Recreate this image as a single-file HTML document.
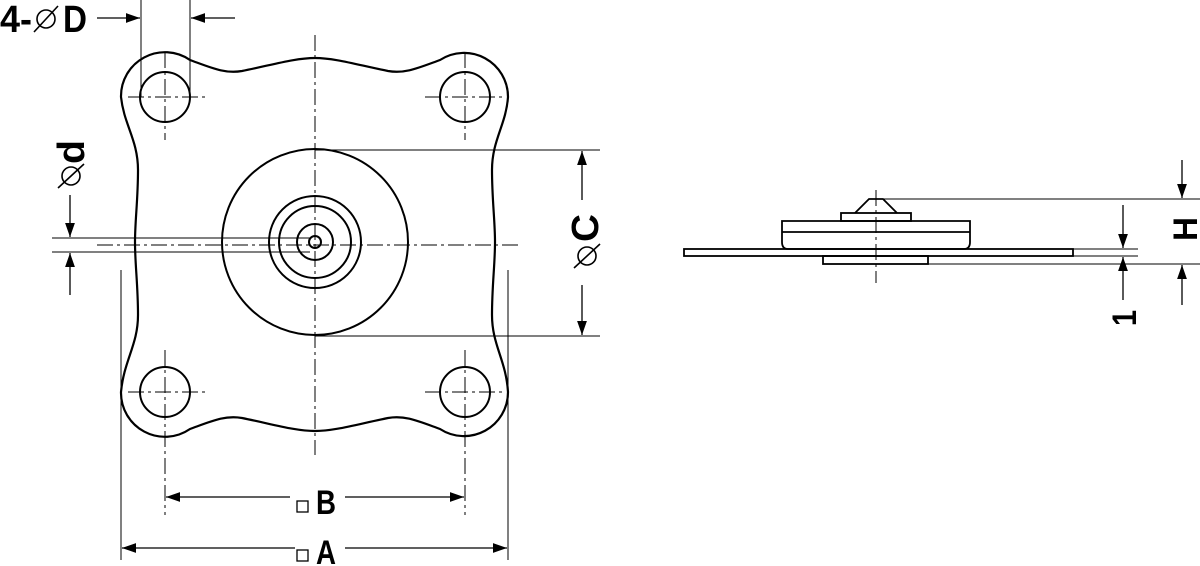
<!DOCTYPE html>
<html><head><meta charset="utf-8"><style>body{margin:0;background:#fff}svg{display:block}</style></head><body>
<svg width="1200" height="566" viewBox="0 0 1200 566" xmlns="http://www.w3.org/2000/svg" font-family="Liberation Sans, sans-serif">
<defs><marker id="ar" viewBox="0 0 10 10" refX="10" refY="5" markerWidth="14" markerHeight="14" markerUnits="userSpaceOnUse" orient="auto"><path d="M0,1.5 L10,5 L0,8.5z" fill="#000"/></marker></defs>
<g fill="none" stroke="#000">
<path stroke-width="2.2" d="M121,97 A44 44 0 0 1 190,60 C212,68 225,74 242,71 C272,65 295,58 315,58 C335,58 358,65 388,71 C405,74 418,68 440,60 A44 44 0 0 1 508,97 C506,125 492,140 492,170 C492,200 495,220 495,242 C495,265 492,285 492,315 C492,345 506,360 508,392 A44 44 0 0 1 440,429 C418,421 405,415 388,418 C358,424 335,431 315,431 C295,431 272,424 242,418 C225,415 212,421 190,429 A44 44 0 0 1 121,392 C124,360 138,345 138,315 C138,285 135,265 135,242 C135,220 138,200 138,170 C138,140 124,125 121,97Z"/>
<g stroke-width="2"><circle cx="165" cy="97" r="25"/><circle cx="465" cy="97" r="25"/><circle cx="165" cy="392" r="25"/><circle cx="465" cy="392" r="25"/>
<circle cx="315" cy="242" r="93"/><circle cx="315" cy="242" r="46"/><circle cx="315" cy="242" r="36"/><circle cx="315" cy="242" r="18"/><circle cx="315" cy="242" r="6"/></g>
<g stroke-width="1" stroke-dasharray="16,4,3,4">
<line x1="315" y1="35" x2="315" y2="455"/><line x1="97" y1="245" x2="520" y2="245"/>
<line x1="165" y1="52" x2="165" y2="140"/><line x1="128" y1="97" x2="205" y2="97"/>
<line x1="465" y1="52" x2="465" y2="140"/><line x1="425" y1="97" x2="502" y2="97"/>
<line x1="165" y1="350" x2="165" y2="515"/><line x1="128" y1="392" x2="205" y2="392"/>
<line x1="465" y1="350" x2="465" y2="515"/><line x1="425" y1="392" x2="502" y2="392"/>
<line x1="876" y1="190" x2="876" y2="283"/>
</g>
<g stroke-width="1">
<line x1="121" y1="270" x2="121" y2="560"/><line x1="508" y1="270" x2="508" y2="560"/>
<line x1="141" y1="0" x2="141" y2="97"/><line x1="190" y1="0" x2="190" y2="97"/>
<line x1="315" y1="150" x2="600" y2="150"/><line x1="315" y1="336" x2="600" y2="336"/>
<line x1="52" y1="238" x2="310" y2="238"/><line x1="52" y1="252" x2="310" y2="252"/>
<line x1="880" y1="199" x2="1200" y2="199"/><line x1="928" y1="264" x2="1200" y2="264"/>
<line x1="1073" y1="249" x2="1138" y2="249"/><line x1="1073" y1="256" x2="1138" y2="256"/>
</g>
<g stroke-width="1.3">
<line x1="295" y1="548" x2="122" y2="548" marker-end="url(#ar)"/><line x1="345" y1="548" x2="507" y2="548" marker-end="url(#ar)"/>
<line x1="290" y1="497" x2="166" y2="497" marker-end="url(#ar)"/><line x1="345" y1="497" x2="464" y2="497" marker-end="url(#ar)"/>
<line x1="97" y1="18" x2="140" y2="18" marker-end="url(#ar)"/><line x1="235" y1="18" x2="191" y2="18" marker-end="url(#ar)"/>
<line x1="582" y1="200" x2="582" y2="151" marker-end="url(#ar)"/><line x1="582" y1="285" x2="582" y2="335" marker-end="url(#ar)"/>
<line x1="70" y1="195" x2="70" y2="237" marker-end="url(#ar)"/><line x1="70" y1="295" x2="70" y2="253" marker-end="url(#ar)"/>
<line x1="1182" y1="160" x2="1182" y2="198" marker-end="url(#ar)"/><line x1="1182" y1="305" x2="1182" y2="265" marker-end="url(#ar)"/>
<line x1="1123" y1="205" x2="1123" y2="248" marker-end="url(#ar)"/><line x1="1123" y1="300" x2="1123" y2="257" marker-end="url(#ar)"/>
</g>
<g stroke-width="1.8">
<rect x="684" y="249" width="389" height="7"/>
<rect x="823" y="256" width="105" height="8"/>
<path d="M782,221 L970,221 L970,242 Q970,249 964,249 L788,249 Q782,249 782,242Z"/>
<line x1="782" y1="232" x2="970" y2="232"/>
<rect x="841" y="213" width="70" height="8"/>
<path d="M855,213 L869,199 L883,199 L897,213"/>
</g>
<g stroke-width="1.6">
<circle cx="46" cy="19" r="9"/><line x1="34" y1="32" x2="58" y2="6"/>
<circle cx="587" cy="256" r="9"/><line x1="574" y1="268" x2="600" y2="244"/>
<circle cx="71" cy="176" r="9"/><line x1="58" y1="188" x2="84" y2="164"/>
</g>
</g>
<g font-weight="bold" font-size="38" fill="#000">
<text x="0" y="32" textLength="32" lengthAdjust="spacingAndGlyphs">4-</text><text x="63" y="32" textLength="24" lengthAdjust="spacingAndGlyphs">D</text>
<text x="316" y="514" font-size="34" textLength="20" lengthAdjust="spacingAndGlyphs">B</text><rect x="297" y="501" width="11" height="11" fill="none" stroke="#000" stroke-width="1.3"/>
<text x="316" y="564" font-size="34" textLength="20" lengthAdjust="spacingAndGlyphs">A</text><rect x="297" y="550" width="11" height="11" fill="none" stroke="#000" stroke-width="1.3"/>
<text transform="translate(598,242) rotate(-90)" textLength="28" lengthAdjust="spacingAndGlyphs">C</text>
<text transform="translate(84,164) rotate(-90)" textLength="24" lengthAdjust="spacingAndGlyphs">d</text>
<text transform="translate(1197,241) rotate(-90)" font-size="34" textLength="24" lengthAdjust="spacingAndGlyphs">H</text>
<text transform="translate(1136,326) rotate(-90)" font-size="34" textLength="16" lengthAdjust="spacingAndGlyphs">1</text>
</g>
</svg>
</body></html>
